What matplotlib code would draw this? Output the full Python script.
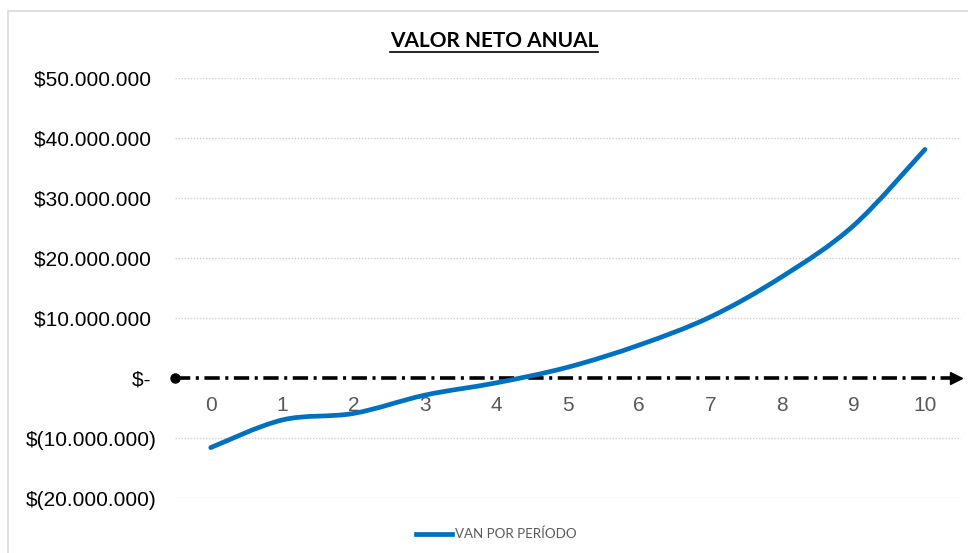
import matplotlib.pyplot as plt
import matplotlib.patches as mpatches
import matplotlib.transforms as mtransforms
from matplotlib.path import Path
from matplotlib.lines import Line2D
from matplotlib.ticker import FuncFormatter

plt.rcParams['lines.scale_dashes'] = False

# datos (millones)
periodos = [0, 1, 2, 3, 4, 5, 6, 7, 8, 9, 10]
van = [-11.6, -7.0, -5.9, -2.85, -0.8, 1.8, 5.5, 10.2, 16.9, 25.4, 38.1]
van = [v * 1e6 for v in van]
yticks = [-20e6, -10e6, 0, 10e6, 20e6, 30e6, 40e6, 50e6]

azul = '#0070C0'
gris = '#595959'


# formato contable: los positivos dejan el hueco del parentesis
def fmt_pesos(v, pos):
    if v == 0:
        return '$- '
    s = '{:,.0f}'.format(abs(v)).replace(',', '.')
    if v < 0:
        return '$(' + s + ')'
    return '$' + s + ' '


# curva suavizada tipo Excel (bezier)
def suavizar(xs, ys, t=1/6):
    verts = [(xs[0], ys[0])]
    codes = [Path.MOVETO]
    n = len(xs)
    for i in range(n - 1):
        x0, y0 = (xs[i - 1], ys[i - 1]) if i > 0 else (xs[i], ys[i])
        x1, y1 = xs[i], ys[i]
        x2, y2 = xs[i + 1], ys[i + 1]
        x3, y3 = (xs[i + 2], ys[i + 2]) if i + 2 < n else (x2, y2)
        c1 = (x1 + (x2 - x0) * t, y1 + (y2 - y0) * t)
        c2 = (x2 - (x3 - x1) * t, y2 - (y3 - y1) * t)
        verts += [c1, c2, (x2, y2)]
        codes += [Path.CURVE4] * 3
    return Path(verts, codes)


fig = plt.figure(figsize=(9.68, 5.53), dpi=100)
ax = fig.add_axes([175 / 968, 55 / 553, 785.7 / 968, 420 / 553])

# borde del grafico
borde = mpatches.Rectangle((8 / 968, -0.1), 1.2, 1 - 11 / 553 + 0.1,
                           transform=fig.transFigure, fill=False,
                           edgecolor='#D9D9D9', lw=1.2)
fig.patches.append(borde)

ax.set_xlim(-0.5, 10.5)
ax.set_ylim(-20e6, 50e6)
ax.set_yticks(yticks)
ax.set_xticks(periodos)
ax.yaxis.set_major_formatter(FuncFormatter(fmt_pesos))

for y in yticks:
    if y != 0:
        ax.axhline(y, color='#D0D0D0', lw=1, ls=(0, (1, 1.2)), zorder=0)

for s in ax.spines.values():
    s.set_visible(False)
ax.spines['bottom'].set_position(('data', 0))

ax.tick_params(axis='y', length=0, pad=13.5, labelsize=15, labelcolor='black')
ax.tick_params(axis='x', length=0, pad=13, labelsize=15, labelcolor=gris)
for lab in ax.get_xticklabels() + ax.get_yticklabels():
    lab.set_family('Liberation Sans')

# eje en cero
ax.plot([-0.5, 10.5], [0, 0], color='black', lw=2.6,
        dashes=[11, 4, 2.2, 4], zorder=3, clip_on=False)
ax.plot([-0.5], [0], 'o', color='black', ms=6.5, zorder=4, clip_on=False)
tr = mtransforms.offset_copy(ax.transData, fig=fig, x=-5, y=0, units='dots')
ax.plot([10.5], [0], '>', color='black', ms=8, transform=tr, zorder=4,
        clip_on=False)

curva = mpatches.PathPatch(suavizar(periodos, van), fill=False,
                           edgecolor=azul, lw=3.4, capstyle='round', zorder=5)
ax.add_patch(curva)

# titulo subrayado
titulo = fig.text(494 / 968, 1 - 41 / 553, 'VALOR NETO ANUAL', ha='center',
                  va='center', fontsize=15, fontweight='bold', family='Lato',
                  color='black')
fig.canvas.draw()
bb = titulo.get_window_extent()
yl = bb.y0 - 1
fig.add_artist(Line2D([bb.x0 / 968, bb.x1 / 968], [yl / 553, yl / 553],
                      transform=fig.transFigure, color='black', lw=1.2))

# leyenda
h = Line2D([], [], color=azul, lw=3.4)
fig.legend([h], ['VAN POR PERÍODO'], loc='center',
           bbox_to_anchor=(0.513, 19 / 553), frameon=False,
           handlelength=2.7, handletextpad=0.25,
           prop={'family': 'Lato', 'size': 9.6}, labelcolor=gris)

fig.savefig('out.png', dpi=100)
